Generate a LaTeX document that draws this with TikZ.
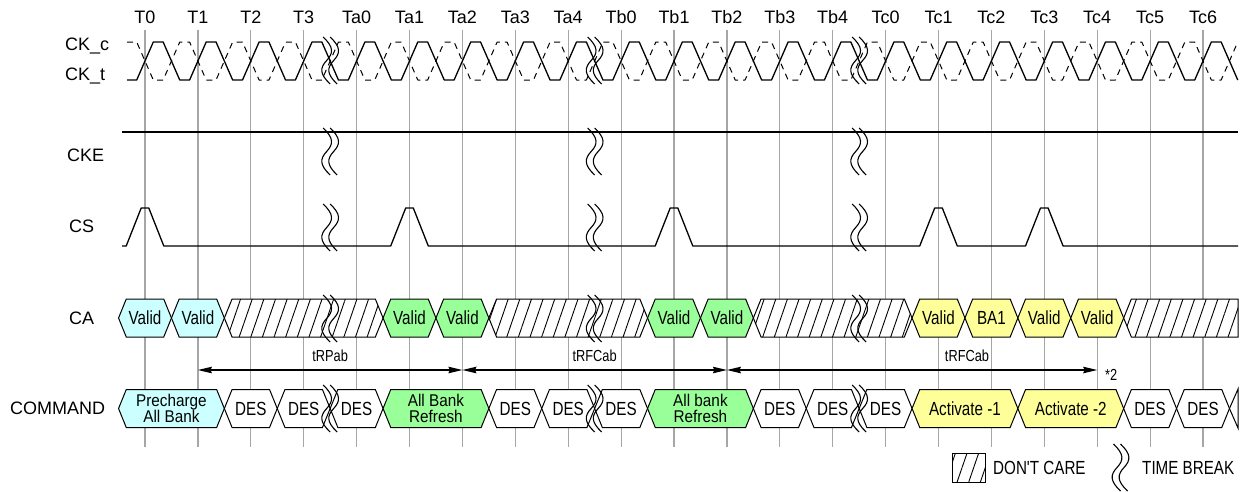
\documentclass[tikz,border=0pt]{standalone}
\usepackage{fontspec}
\setmainfont{Liberation Sans}
\newfontfamily\nfont[FakeStretch=0.8]{Liberation Sans}
\newfontfamily\mfont[FakeStretch=0.9]{Liberation Sans}
\usepackage{tikz}
\usetikzlibrary{arrows.meta,patterns.meta}
\definecolor{cyc}{HTML}{CCFFFF}
\definecolor{grc}{HTML}{99FF99}
\definecolor{ylc}{HTML}{FFFF99}
\def\tzero{145}
\def\tper{52.9}
\tikzset{
  sig/.style={line width=1.3pt,line join=round},
  tick/.style={draw=black!35,line width=1.2pt},
  ar/.style={<->,>={Stealth[length=14pt,width=6.5pt,inset=1.5pt]},line width=1.2pt},
  lab/.style={font=\fontsize{18}{20}\selectfont,anchor=base west,inner sep=0pt},
  tlab/.style={font=\fontsize{18}{20}\selectfont,anchor=base,inner sep=0pt},
  txt/.style={font=\nfont\fontsize{19}{20}\selectfont,inner sep=0pt},
  two/.style={font=\mfont\fontsize{17}{16}\selectfont,align=center,inner sep=0pt},
  tm/.style={font=\nfont\fontsize{16}{18}\selectfont,anchor=base,inner sep=0pt},
  lg/.style={font=\nfont\fontsize{19}{20}\selectfont,anchor=base west,inner sep=0pt},
  cy/.style={draw,line width=1pt,fill=cyc},
  gr/.style={draw,line width=1pt,fill=grc},
  yl/.style={draw,line width=1pt,fill=ylc},
  wh/.style={draw,line width=1pt,fill=white},
  dc/.style={draw,line width=1pt,preaction={fill=white},pattern={Lines[angle=71,distance=11pt,line width=0.9pt]}},
  brk/.style={line width=1.1pt}
}
\newcommand\cell[7][txt]{%
  \path[#6] ({\tzero+(#3-0.5)*\tper},#5) -- ++(7.7,-19) -- ({\tzero+(#4+0.5)*\tper-7.7},#5-19)
    -- ({\tzero+(#4+0.5)*\tper},#5) -- ({\tzero+(#4+0.5)*\tper-7.7},#5+19)
    -- ({\tzero+(#3-0.5)*\tper+7.7},#5+19) -- cycle;
  \node[#1] (#2) at ({\tzero+(#3+#4)/2*\tper},#5) {#7};}
\newcommand\tbreak[2]{%
  \foreach \dx in {-3.5,3.5}{
    \draw[brk] ({#1+\dx-3.5},#2) .. controls ({#1+\dx+7},#2+10) and ({#1+\dx+7},#2+16) .. ({#1+\dx},#2+23.5)
      .. controls ({#1+\dx-7},#2+31) and ({#1+\dx-7},#2+37) .. ({#1+\dx+3.5},#2+47);}}

\begin{document}
\begin{tikzpicture}[x=1pt,y=-1pt]
\useasboundingbox (0,0) rectangle (1244,491);
\foreach \n [count=\i from 0] in {T0,T1,T2,T3,Ta0,Ta1,Ta2,Ta3,Ta4,Tb0,Tb1,Tb2,Tb3,Tb4,Tc0,Tc1,Tc2,Tc3,Tc4,Tc5,Tc6}{
  \draw[tick] ({\tzero+\i*\tper},30) -- ({\tzero+\i*\tper},447);
  \node[tlab] (\n) at ({\tzero+\i*\tper},23.5) {\n};
}
\node[lab] (ckc) at (65,50) {CK\_c};
\node[lab] (ckt) at (65,80) {CK\_t};
\node[lab] (cke) at (67,161.5) {CKE};
\node[lab] (cs) at (69,232) {CS};
\node[lab] (ca) at (69,324) {CA};
\node[lab] (cmd) at (10,414) {COMMAND};

\draw[sig,line width=1pt,dash pattern=on 6pt off 5pt] (127,42) \foreach \i in {0,...,20}{
  -- ({\tzero+\i*\tper-8.3},42) -- ({\tzero+\i*\tper+8.3},80) -- ({\tzero+(\i+0.5)*\tper-8.3},80) -- ({\tzero+(\i+0.5)*\tper+8.3},42)};
\draw[sig] (127,80) \foreach \i in {0,...,20}{
  -- ({\tzero+\i*\tper-8.3},80) -- ({\tzero+\i*\tper+8.3},42) -- ({\tzero+(\i+0.5)*\tper-8.3},42) -- ({\tzero+(\i+0.5)*\tper+8.3},80)};
\draw[sig] (122,132) -- (1238,132);
\draw[sig] (122,246) \foreach \i in {0,5,10,15,17}{
  -- ({\tzero+\i*\tper-18.8},246) -- ({\tzero+\i*\tper-3.8},208) -- ({\tzero+\i*\tper+3.8},208) -- ({\tzero+\i*\tper+18.8},246)} -- (1238,246);

\cell{ca0}{0}{0}{318}{cy}{Valid}
\cell{ca1}{1}{1}{318}{cy}{Valid}
\cell{ca2}{2}{4}{318}{dc}{}
\cell{ca3}{5}{5}{318}{gr}{Valid}
\cell{ca4}{6}{6}{318}{gr}{Valid}
\cell{ca5}{7}{9}{318}{dc}{}
\cell{ca6}{10}{10}{318}{gr}{Valid}
\cell{ca7}{11}{11}{318}{gr}{Valid}
\cell{ca8}{12}{14}{318}{dc}{}
\cell{ca9}{15}{15}{318}{yl}{Valid}
\cell{ca10}{16}{16}{318}{yl}{BA1}
\cell{ca11}{17}{17}{318}{yl}{Valid}
\cell{ca12}{18}{18}{318}{yl}{Valid}
\path[dc] ({\tzero+18.5*\tper},318) -- ++(7.7,-19) -- (1238,299) -- (1238,337) -- ({\tzero+18.5*\tper+7.7},337) -- cycle;

\cell[two]{c0}{0}{1}{408.5}{cy}{Precharge\\All Bank}
\cell{c1}{2}{2}{408.5}{wh}{DES}
\cell{c2}{3}{3}{408.5}{wh}{DES}
\cell{c3}{4}{4}{408.5}{wh}{DES}
\cell[two]{c4}{5}{6}{408.5}{gr}{All Bank\\Refresh}
\cell{c5}{7}{7}{408.5}{wh}{DES}
\cell{c6}{8}{8}{408.5}{wh}{DES}
\cell{c7}{9}{9}{408.5}{wh}{DES}
\cell[two]{c8}{10}{11}{408.5}{gr}{All bank\\Refresh}
\cell{c9}{12}{12}{408.5}{wh}{DES}
\cell{c10}{13}{13}{408.5}{wh}{DES}
\cell{c11}{14}{14}{408.5}{wh}{DES}
\cell{c12}{15}{16}{408.5}{yl}{Activate -1}
\cell{c13}{17}{18}{408.5}{yl}{Activate -2}
\cell{c14}{19}{19}{408.5}{wh}{DES}
\cell{c15}{20}{20}{408.5}{wh}{DES}
\path[wh] ({\tzero+20.5*\tper},408.5) -- (1238,389) -- (1238,428) -- cycle;

\foreach \y in {37,128,204,295,385}{
  \foreach \k in {3.5,8.5,13.5}{\tbreak{\tzero+\k*\tper}{\y}}}

\coordinate (r0) at ({\tzero+1*\tper},370);
\coordinate (r1) at ({\tzero+6*\tper},370);
\coordinate (r2) at ({\tzero+11*\tper},370);
\coordinate (r3) at ({\tzero+18*\tper},370);
\draw[ar] (r0) -- (r1);
\draw[ar] (r1) -- (r2);
\draw[ar] (r2) -- (r3);
\node[tm] (l0) at ({\tzero+3.5*\tper},361) {tRPab};
\node[tm] (l1) at ({\tzero+8.5*\tper},361) {tRFCab};
\node[tm] (l2) at (967,361) {tRFCab};
\node[tm,anchor=base west] (l3) at (1105,380) {*2};

\node[dc,minimum width=33pt,minimum height=29pt,inner sep=0pt] (dcl) at (968.5,467.5) {};
\node[lg] (dct) at (993,474) {DON'T CARE};
\tbreak{1120.5}{444}
\node[lg] (tbt) at (1142,474) {TIME BREAK};
\end{tikzpicture}
\end{document}
